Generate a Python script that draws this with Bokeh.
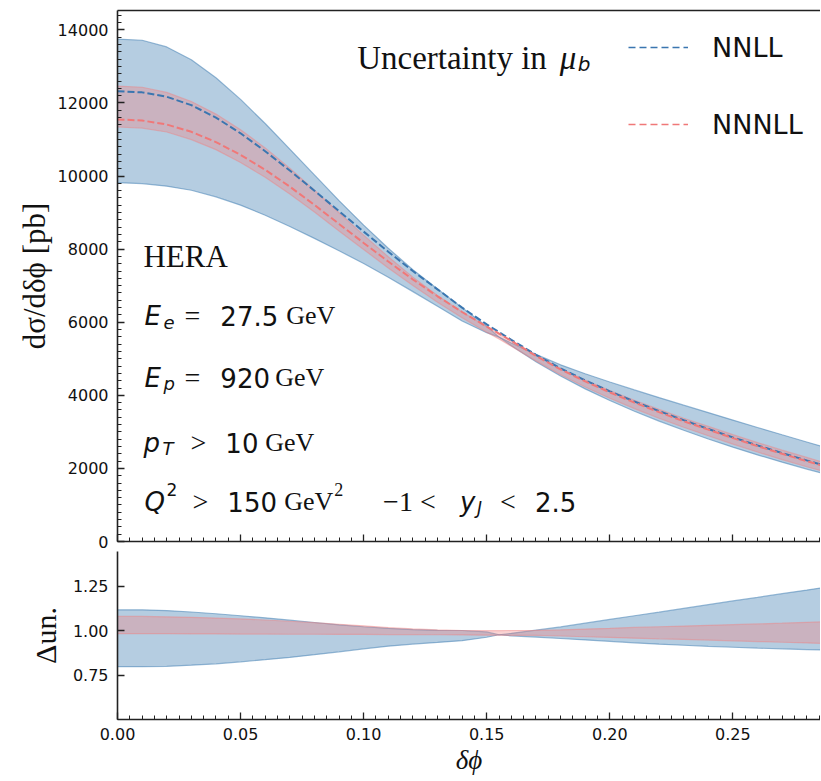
from bokeh.plotting import figure
from bokeh.models import (Label, Legend, LegendItem, LinearAxis, SingleIntervalTicker,
                          FixedTicker, PrintfTickFormatter, Range1d, ColumnDataSource,
                          CustomJSTickFormatter)
from bokeh.layouts import column
from bokeh.embed import file_html
from bokeh.resources import INLINE

# ---------------- data ----------------
dphi = [0.00, 0.01, 0.02, 0.03, 0.04, 0.05, 0.06, 0.07, 0.08, 0.09, 0.10,
        0.11, 0.12, 0.13, 0.14, 0.15, 0.155, 0.16, 0.17, 0.18, 0.19, 0.20,
        0.21, 0.22, 0.23, 0.24, 0.25, 0.26, 0.27, 0.28, 0.2856]

# central values [pb]
nnll = [12320, 12290, 12170, 11940, 11600, 11170, 10680, 10150, 9600, 9040, 8480,
        7930, 7400, 6900, 6400, 5940, 5730, 5520, 5110, 4740, 4410, 4110,
        3830, 3570, 3320, 3080, 2850, 2630, 2420, 2220, 2110]
nnnll = [11550, 11520, 11410, 11210, 10930, 10580, 10170, 9710, 9210, 8690, 8170,
         7660, 7170, 6710, 6280, 5880, 5690, 5490, 5080, 4710, 4380, 4080,
         3800, 3540, 3290, 3060, 2830, 2610, 2400, 2200, 2090]

# band edges relative to the central value (lower panel, "Delta un.")
nnll_up = [1.116, 1.116, 1.112, 1.104, 1.094, 1.083, 1.071, 1.058, 1.045, 1.032, 1.021,
           1.012, 1.005, 1.001, 1.000, 0.992, 0.976, 0.984, 1.002, 1.020, 1.041, 1.062,
           1.083, 1.103, 1.124, 1.145, 1.166, 1.186, 1.207, 1.227, 1.239]
nnll_lo = [0.797, 0.797, 0.799, 0.805, 0.813, 0.824, 0.836, 0.849, 0.864, 0.880, 0.897,
           0.912, 0.924, 0.933, 0.943, 0.962, 0.976, 0.970, 0.963, 0.955, 0.947, 0.939,
           0.931, 0.923, 0.917, 0.911, 0.906, 0.901, 0.897, 0.893, 0.891]
nnnll_up = [1.079, 1.079, 1.077, 1.074, 1.070, 1.065, 1.059, 1.052, 1.044, 1.035, 1.026,
            1.017, 1.009, 1.003, 1.000, 0.999, 0.999, 1.000, 1.001, 1.004, 1.008, 1.012,
            1.017, 1.021, 1.025, 1.029, 1.033, 1.037, 1.041, 1.046, 1.048]
nnnll_lo = [0.982, 0.982, 0.982, 0.981, 0.981, 0.980, 0.980, 0.979, 0.979, 0.978, 0.978,
            0.977, 0.977, 0.976, 0.975, 0.974, 0.974, 0.973, 0.973, 0.969, 0.965, 0.961,
            0.957, 0.953, 0.950, 0.946, 0.942, 0.938, 0.934, 0.930, 0.928]

x_ticks_step = 0.05
y_ticks_step = 2000
ratio_ticks = [0.75, 1.00, 1.25]
series_names = ["NNLL", "NNNLL"]

# ---------------- styles ----------------
BLUE = "#4682b4"
RED = "#f08080"
BLUE_LINE = "#3a76b0"
RED_LINE = "#f07878"
AX = "#222222"
SERIF = "Liberation Serif"
SANS = "DejaVu Sans"

XMAX = 0.2856
YMAX = 14530.0
FW, FH1 = 703, 531
RATIO_PX = 178.0          # pixels per unit of the ratio axis
FH2 = 168                 # ratio-panel frame height (its top 10 px sit under the upper panel's border)
GAP = 10

src = ColumnDataSource(dict(
    x=dphi, c1=nnll, c2=nnnll,
    r1u=nnll_up, r1l=nnll_lo, r2u=nnnll_up, r2l=nnnll_lo,
    b1u=[c * r for c, r in zip(nnll, nnll_up)],
    b1l=[c * r for c, r in zip(nnll, nnll_lo)],
    b2u=[c * r for c, r in zip(nnnll, nnnll_up)],
    b2l=[c * r for c, r in zip(nnnll, nnnll_lo)],
))


def style_axis(ax, labels=True):
    ax.axis_line_color = AX
    ax.axis_line_width = 1.6
    ax.major_tick_line_color = AX
    ax.minor_tick_line_color = AX
    ax.major_tick_in = 7
    ax.major_tick_out = 0
    ax.minor_tick_in = 4
    ax.minor_tick_out = 0
    ax.major_tick_line_width = 1.3
    ax.minor_tick_line_width = 1
    ax.major_label_text_font = SANS
    ax.major_label_text_font_size = "16px"
    ax.major_label_text_color = "#111111"
    if not labels:
        ax.formatter = CustomJSTickFormatter(code="return ''")
        ax.major_label_text_font_size = "0px"
        ax.major_label_standoff = 0


# ---------------- top panel ----------------
p1 = figure(frame_width=FW, frame_height=FH1, x_range=Range1d(0, XMAX),
            y_range=Range1d(0, YMAX), output_backend="svg", toolbar_location=None,
            min_border_left=117, min_border_right=0, min_border_top=10,
            min_border_bottom=GAP,
            background_fill_color="white", border_fill_color="white")
p1.grid.visible = False
p1.outline_line_color = None

p1.varea(x="x", y1="b1l", y2="b1u", source=src, fill_color=BLUE, fill_alpha=0.4)
p1.line("x", "b1u", source=src, line_color=BLUE, line_alpha=0.55, line_width=1.2)
p1.line("x", "b1l", source=src, line_color=BLUE, line_alpha=0.55, line_width=1.2)
p1.varea(x="x", y1="b2l", y2="b2u", source=src, fill_color=RED, fill_alpha=0.35)
p1.line("x", "b2u", source=src, line_color=RED, line_alpha=0.45, line_width=1.2)
p1.line("x", "b2l", source=src, line_color=RED, line_alpha=0.45, line_width=1.2)
l1 = p1.line("x", "c1", source=src, line_color=BLUE_LINE, line_width=2.0, line_dash="7 3")
l2 = p1.line("x", "c2", source=src, line_color=RED_LINE, line_width=2.0, line_dash="7 3")

# thin stand-ins used only for the legend samples (one undrawn point each)
nan = float("nan")
leg1 = p1.line(x=[nan], y=[nan], line_color=BLUE_LINE, line_width=1.3, line_dash="7 4")
leg2 = p1.line(x=[nan], y=[nan], line_color=RED_LINE, line_width=1.3, line_dash="7 4")

style_axis(p1.xaxis[0], labels=False)
p1.xaxis[0].ticker = SingleIntervalTicker(interval=x_ticks_step, num_minor_ticks=10)
style_axis(p1.yaxis[0])
p1.yaxis[0].ticker = SingleIntervalTicker(interval=y_ticks_step, num_minor_ticks=10)
p1.yaxis[0].major_label_standoff = 9
p1.yaxis[0].axis_label = "dσ/dδϕ [pb]"
p1.yaxis[0].axis_label_text_font = SERIF
p1.yaxis[0].axis_label_text_font_size = "31px"
p1.yaxis[0].axis_label_text_font_style = "normal"
p1.yaxis[0].axis_label_text_color = "#111111"
p1.yaxis[0].axis_label_standoff = 3

top_axis = LinearAxis(ticker=FixedTicker(ticks=[]), axis_line_color=AX, axis_line_width=1.6,
                      major_tick_in=0, major_tick_out=0, minor_tick_in=0, minor_tick_out=0,
                      major_label_text_font_size="0px", major_label_standoff=0)
p1.add_layout(top_axis, "above")

legend = Legend(items=[LegendItem(label=series_names[0], renderers=[leg1]),
                       LegendItem(label=series_names[1], renderers=[leg2])],
                location=(511, 401), orientation="vertical",
                glyph_width=60, glyph_height=32, label_height=32, label_standoff=24,
                spacing=45, padding=0, margin=0, border_line_color=None,
                background_fill_alpha=0, label_text_font=SANS,
                label_text_font_size="27px", label_text_color="#111111")
p1.add_layout(legend)


def at(px, py):
    """reference page pixel -> data coordinates of the top panel"""
    return (px - 117) / 704 * XMAX, (541 - py) / 531 * YMAX


segments = [
    ("Uncertainty in", 357, 57, SERIF, 33, "normal"),
    ("μ", 560, 57, SERIF, 33, "italic"),
    ("b", 578, 63, SANS, 20, "italic"),
    ("HERA", 143, 256, SERIF, 31, "normal"),
    ("E", 144, 315, SANS, 26, "italic"),
    ("e", 163, 322, SANS, 18, "italic"),
    ("=", 184, 315, SERIF, 28, "normal"),
    ("27.5", 220, 315, SANS, 26, "normal"),
    ("GeV", 286, 315, SERIF, 26, "normal"),
    ("E", 144, 377, SANS, 26, "italic"),
    ("p", 163, 383, SANS, 18, "italic"),
    ("=", 184, 377, SERIF, 28, "normal"),
    ("920", 220, 377, SANS, 26, "normal"),
    ("GeV", 275, 377, SERIF, 26, "normal"),
    ("p", 143, 442, SANS, 26, "italic"),
    ("T", 162, 448, SANS, 18, "italic"),
    (">", 190, 442, SERIF, 28, "normal"),
    ("10", 225, 442, SANS, 26, "normal"),
    ("GeV", 265, 442, SERIF, 26, "normal"),
    ("Q", 144, 501, SANS, 26, "italic"),
    ("2", 166, 489, SANS, 17, "normal"),
    (">", 192, 501, SERIF, 28, "normal"),
    ("150", 227, 501, SANS, 26, "normal"),
    ("GeV", 284, 501, SERIF, 26, "normal"),
    ("2", 334, 489, SERIF, 18, "normal"),
    ("−1", 383, 501, SERIF, 28, "normal"),
    ("<", 420, 501, SERIF, 28, "normal"),
    ("y", 460, 501, SANS, 26, "italic"),
    ("J", 477, 507, SANS, 17, "italic"),
    ("<", 500, 501, SERIF, 28, "normal"),
    ("2.5", 535, 501, SANS, 26, "normal"),
]
for txt, px, py, font, size, style in segments:
    lx, ly = at(px, py)
    p1.add_layout(Label(x=lx, y=ly, text=txt, text_font=font, text_font_size=f"{size}px",
                        text_font_style=style, text_color="#111111",
                        text_align="left", text_baseline="alphabetic"))

# ---------------- ratio panel ----------------
p2 = figure(frame_width=FW, frame_height=FH2, x_range=p1.x_range,
            y_range=Range1d(0.5, 0.5 + FH2 / RATIO_PX), output_backend="svg",
            toolbar_location=None,
            min_border_left=117, min_border_right=0, min_border_top=0, min_border_bottom=60,
            background_fill_color="white", border_fill_color="white")
p2.grid.visible = False
p2.outline_line_color = None

p2.varea(x="x", y1="r1l", y2="r1u", source=src, fill_color=BLUE, fill_alpha=0.4)
p2.line("x", "r1u", source=src, line_color=BLUE, line_alpha=0.55, line_width=1.2)
p2.line("x", "r1l", source=src, line_color=BLUE, line_alpha=0.55, line_width=1.2)
p2.varea(x="x", y1="r2l", y2="r2u", source=src, fill_color=RED, fill_alpha=0.35)
p2.line("x", "r2u", source=src, line_color=RED, line_alpha=0.45, line_width=1.2)
p2.line("x", "r2l", source=src, line_color=RED, line_alpha=0.45, line_width=1.2)

style_axis(p2.xaxis[0])
p2.xaxis[0].ticker = SingleIntervalTicker(interval=x_ticks_step, num_minor_ticks=10)
p2.xaxis[0].formatter = PrintfTickFormatter(format="%.2f")
p2.xaxis[0].major_label_standoff = 8
p2.xaxis[0].axis_label = "δϕ"
p2.xaxis[0].axis_label_text_font = SERIF
p2.xaxis[0].axis_label_text_font_size = "27px"
p2.xaxis[0].axis_label_text_font_style = "italic"
p2.xaxis[0].axis_label_text_color = "#111111"
p2.xaxis[0].axis_label_standoff = 2
style_axis(p2.yaxis[0])
p2.yaxis[0].ticker = FixedTicker(ticks=ratio_ticks, minor_ticks=[])
p2.yaxis[0].formatter = PrintfTickFormatter(format="%.2f")
p2.yaxis[0].major_label_standoff = 9
p2.yaxis[0].axis_label = "Δun."
p2.yaxis[0].axis_label_text_font = SERIF
p2.yaxis[0].axis_label_text_font_size = "30px"
p2.yaxis[0].axis_label_text_font_style = "normal"
p2.yaxis[0].axis_label_text_color = "#111111"
p2.yaxis[0].axis_label_standoff = 8

layout = column(p1, p2, spacing=0)
open("out.html", "w").write(file_html(layout, INLINE))
